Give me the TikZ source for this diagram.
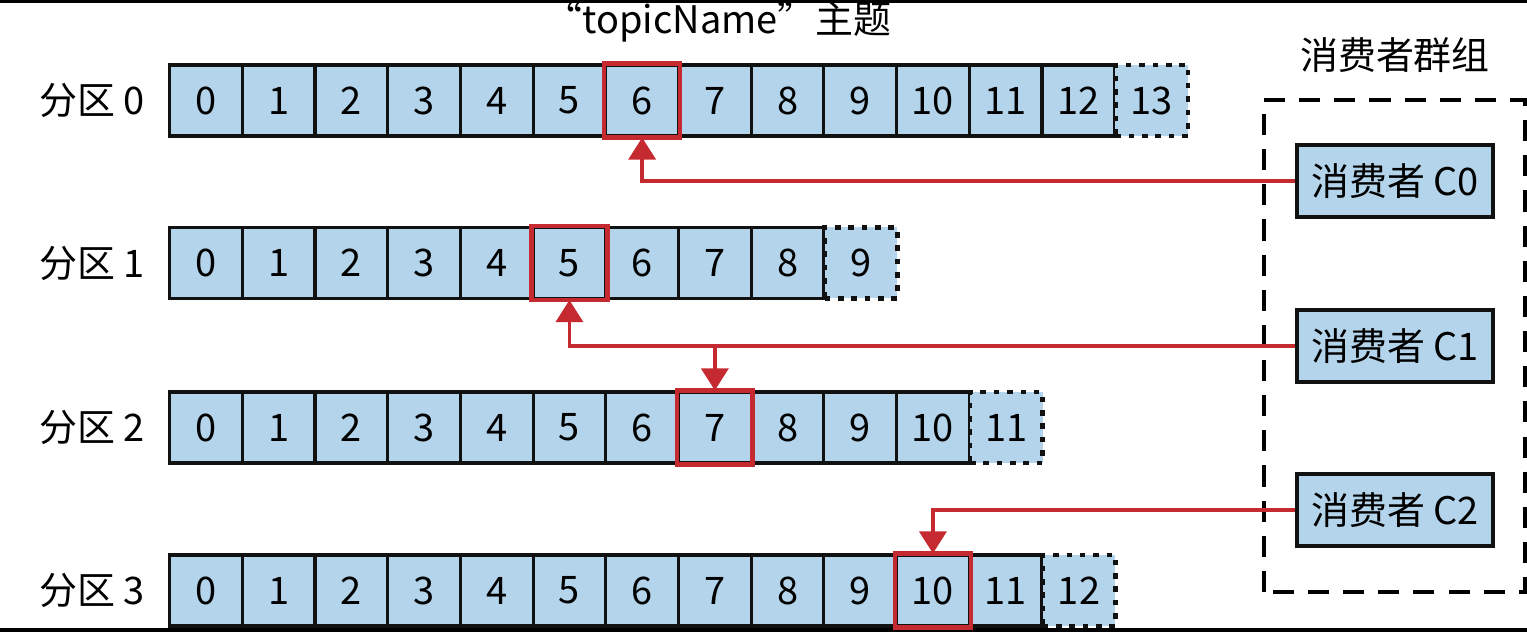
\documentclass[tikz,border=0pt]{standalone}
\usepackage{fontspec}
\setmainfont{Noto Sans CJK SC}
\usepackage{tikz}
\usepackage{xcolor}
\usetikzlibrary{arrows.meta,positioning,calc}
\definecolor{cellfill}{HTML}{B3D4EA}
\definecolor{ink}{HTML}{111111}
\definecolor{hot}{HTML}{C62A31}
\tikzset{
  cell/.style={draw=ink, fill=cellfill, line width=0.9pt, minimum width=0.727cm,
               minimum height=0.71cm, inner sep=0pt, anchor=west,
               font=\fontsize{10.8}{13}\selectfont},
  lastcell/.style={cell, line width=1.3pt, dash pattern=on 1.6pt off 2.2pt},
  consumer/.style={draw=ink, fill=cellfill, line width=1.1pt, minimum width=1.96cm,
                   minimum height=0.72cm, inner sep=0pt, font=\fontsize{10.8}{13}\selectfont},
  plabel/.style={font=\fontsize{10.8}{13}\selectfont, inner sep=0pt},
  arrow/.style={-{Triangle[length=0.22cm,width=0.27cm]}, line width=1pt, draw=hot},
  hl/.style={draw=hot, line width=1.3pt}
}

\begin{document}
\begin{tikzpicture}[x=1cm,y=1cm]
        \useasboundingbox (0,0) rectangle (15.27,6.32);
        % frame lines
        \draw[line width=0.9pt] (0,6.31) -- (15.27,6.31);
        \draw[line width=1.1pt] (0,0.02) -- (15.27,0.02);

        % titles
        \node[plabel] (topic) at (7.18,6.10) {“topicName”主题};
        \node[plabel] (grouptitle) at (13.95,5.77) {消费者群组};

        % partitions
        \foreach \r/\y/\n in {0/5.315/13,1/3.69/9,2/2.045/11,3/0.415/12} {
          \node[plabel] (lab\r) at (0.92,\y) {分区 \r};
          \pgfmathtruncatemacro{\m}{\n-1}
          \foreach \i in {0,...,\m}
            {\node[cell] (r\r-\i) at ({1.68+0.727*\i},\y) {\i};}
          \node[lastcell] (r\r-\n) at ({1.68+0.727*\n},\y) {\n};
        }

        % current positions
        \foreach \c in {r0-6,r1-5,r2-7,r3-10}
          {\draw[hl] (\c.south west) rectangle (\c.north east);}

        % consumer group
        \draw[line width=1.1pt, dash pattern=on 6pt off 4pt] (12.64,0.40) rectangle (15.25,5.32);
        \node[consumer] (c0) at (13.95,4.51) {消费者 C0};
        \node[consumer] (c1) at (13.95,2.86) {消费者 C1};
        \node[consumer] (c2) at (13.95,1.22) {消费者 C2};

        % assignments
        \draw[arrow] (c0.west) -| (r0-6.south);
        \draw[arrow] (c1.west) -| (r1-5.south);
        \coordinate (j1) at (c1.west -| r2-7.north);
        \draw[arrow] (j1) -- (r2-7.north);
        \draw[arrow] (c2.west) -| (r3-10.north);
      \end{tikzpicture}
\end{document}
